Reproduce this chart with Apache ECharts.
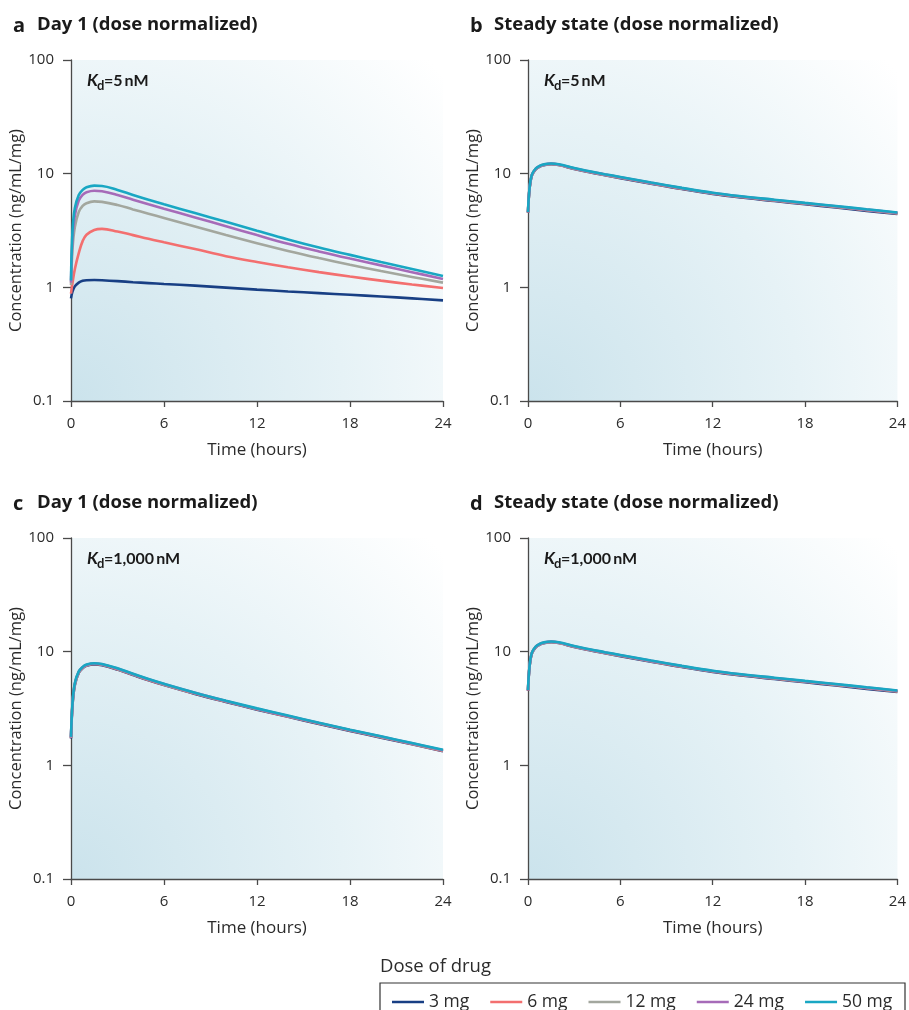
<!DOCTYPE html>
<html>
<head>
<meta charset="utf-8">
<script src="https://cdn.jsdelivr.net/npm/echarts@6/dist/echarts.min.js"></script>
<style>
html,body{margin:0;padding:0;background:#fff;}
#chart{width:909px;height:1010px;}
</style>
</head>
<body>
<div id="chart"></div>
<script>
// ---------- DATA ----------
const times = [0, 0.1, 0.25, 0.5, 0.75, 1, 1.5, 2, 3, 4, 5, 6, 8, 10, 12, 14, 16, 18, 20, 22, 24];
const doseNames = ['3 mg', '6 mg', '12 mg', '24 mg', '50 mg'];
const xTickLabels = ['0', '6', '12', '18', '24'];
const yTickLabels = ['0.1', '1', '10', '100'];

// Panel a: Day 1, Kd = 5 nM
const a3  = [0.80,0.92,1.02,1.10,1.14,1.155,1.16,1.155,1.135,1.11,1.09,1.07,1.035,0.995,0.955,0.92,0.89,0.86,0.83,0.80,0.768];
const a6  = [0.88,1.10,1.45,2.00,2.55,2.90,3.20,3.27,3.10,2.88,2.67,2.49,2.17,1.88,1.67,1.50,1.36,1.245,1.145,1.06,0.986];
const a12 = [1.05,2.20,3.40,4.60,5.20,5.50,5.70,5.65,5.30,4.85,4.45,4.08,3.43,2.88,2.44,2.09,1.81,1.58,1.39,1.235,1.10];
const a24 = [1.10,2.70,4.30,5.80,6.50,6.85,7.07,7.00,6.50,5.90,5.37,4.91,4.12,3.45,2.88,2.42,2.07,1.79,1.56,1.36,1.185];
const a50 = [1.15,3.20,5.00,6.50,7.20,7.60,7.85,7.80,7.20,6.50,5.90,5.38,4.50,3.77,3.15,2.64,2.24,1.93,1.67,1.45,1.26];

// Panel b: Steady state, Kd = 5 nM
const b3  = [4.52,7.30,9.60,10.90,11.50,11.85,12.10,11.90,11.00,10.30,9.70,9.14,8.16,7.32,6.64,6.14,5.74,5.38,5.04,4.71,4.42];
const b6  = [4.55,7.35,9.65,10.95,11.55,11.90,12.15,11.95,11.05,10.35,9.75,9.20,8.22,7.38,6.70,6.20,5.80,5.44,5.10,4.77,4.47];
const b12 = [4.57,7.40,9.70,11.00,11.60,11.95,12.20,12.00,11.10,10.40,9.80,9.25,8.26,7.42,6.73,6.23,5.83,5.47,5.13,4.80,4.50];
const b24 = [4.58,7.45,9.75,11.05,11.65,12.00,12.25,12.05,11.15,10.45,9.85,9.30,8.30,7.46,6.77,6.27,5.87,5.50,5.16,4.83,4.53];
const b50 = [4.60,7.50,9.80,11.10,11.70,12.05,12.30,12.10,11.20,10.50,9.90,9.35,8.35,7.50,6.80,6.30,5.90,5.53,5.19,4.86,4.56];

// Panel c: Day 1, Kd = 1,000 nM
const c3  = [1.72,3.40,5.10,6.50,7.15,7.50,7.72,7.60,6.95,6.23,5.60,5.08,4.25,3.61,3.09,2.67,2.31,2.01,1.75,1.53,1.33];
const c6  = [1.74,3.45,5.15,6.55,7.20,7.55,7.78,7.66,7.00,6.28,5.64,5.12,4.28,3.64,3.11,2.69,2.33,2.03,1.77,1.54,1.34];
const c12 = [1.75,3.50,5.20,6.60,7.25,7.60,7.82,7.70,7.05,6.32,5.68,5.15,4.31,3.66,3.13,2.71,2.35,2.04,1.78,1.55,1.35];
const c24 = [1.76,3.55,5.25,6.65,7.30,7.65,7.87,7.75,7.10,6.36,5.72,5.19,4.34,3.68,3.15,2.72,2.36,2.05,1.79,1.56,1.36];
const c50 = [1.78,3.60,5.30,6.70,7.35,7.70,7.92,7.80,7.15,6.40,5.75,5.22,4.36,3.70,3.17,2.74,2.37,2.06,1.80,1.57,1.37];

// Panel d: Steady state, Kd = 1,000 nM
const d3  = [4.52,7.30,9.60,10.90,11.50,11.85,12.10,11.90,11.00,10.30,9.70,9.14,8.16,7.32,6.64,6.14,5.74,5.38,5.04,4.71,4.42];
const d6  = [4.55,7.35,9.65,10.95,11.55,11.90,12.15,11.95,11.05,10.35,9.75,9.20,8.22,7.38,6.70,6.20,5.80,5.44,5.10,4.77,4.47];
const d12 = [4.57,7.40,9.70,11.00,11.60,11.95,12.20,12.00,11.10,10.40,9.80,9.25,8.26,7.42,6.73,6.23,5.83,5.47,5.13,4.80,4.50];
const d24 = [4.58,7.45,9.75,11.05,11.65,12.00,12.25,12.05,11.15,10.45,9.85,9.30,8.30,7.46,6.77,6.27,5.87,5.50,5.16,4.83,4.53];
const d50 = [4.60,7.50,9.80,11.10,11.70,12.05,12.30,12.10,11.20,10.50,9.90,9.35,8.35,7.50,6.80,6.30,5.90,5.53,5.19,4.86,4.56];

const panelLetters = ['a', 'b', 'c', 'd'];
const panelTitles = ['Day 1 (dose normalized)', 'Steady state (dose normalized)', 'Day 1 (dose normalized)', 'Steady state (dose normalized)'];
const kdValues = ['5\u2009nM', '5\u2009nM', '1,000\u2009nM', '1,000\u2009nM'];
const legendTitle = 'Dose of drug';
const xAxisTitle = 'Time (hours)';
const yAxisTitle = 'Concentration (ng/mL/mg)';

// ---------- STYLE / LAYOUT ----------
const colors = ['#183f84', '#f36f6f', '#a3a79e', '#a66bb8', '#19a7c3'];
const FONT = '"Open Sans", Lato, "DejaVu Sans", sans-serif';
const KFONT = 'Lato, "Open Sans", sans-serif';
const TXT = '#2b2b2b';
const AX = '#4a4a4a';
const grids = [
  {left: 71, top: 60, width: 372, height: 341},
  {left: 528, top: 60, width: 370, height: 341},
  {left: 71, top: 538, width: 372, height: 341},
  {left: 528, top: 538, width: 370, height: 341}
];
const panelSeries = [
  [a3, a6, a12, a24, a50],
  [b3, b6, b12, b24, b50],
  [c3, c6, c12, c24, c50],
  [d3, d6, d12, d24, d50]
];

const chart = echarts.init(document.getElementById('chart'), null, {renderer: 'canvas'});

function bg() {
  return new echarts.graphic.RadialGradient(0, 1, 1.45, [
    {offset: 0, color: '#cbe3ec'},
    {offset: 0.55, color: '#e6f2f6'},
    {offset: 1, color: '#ffffff'}
  ]);
}

const option = {
  animation: false,
  backgroundColor: '#ffffff',
  textStyle: {fontFamily: FONT},
  grid: grids.map(g => Object.assign({show: true, borderWidth: 0, backgroundColor: bg()}, g)),
  xAxis: grids.map((g, i) => ({
    type: 'value', gridIndex: i, min: 0, max: 24, interval: 6,
    axisLine: {show: true, onZero: false, lineStyle: {color: AX, width: 1.3}},
    axisTick: {show: true, length: 6, lineStyle: {color: AX, width: 1.3}},
    axisLabel: {fontSize: 15, color: TXT, margin: 15, fontFamily: FONT,
      formatter: v => xTickLabels[Math.round(v / 6)]},
    splitLine: {show: false},
    name: xAxisTitle, nameLocation: 'middle', nameGap: 41,
    nameTextStyle: {fontSize: 17, color: TXT, fontFamily: FONT}
  })),
  yAxis: grids.map((g, i) => ({
    type: 'log', logBase: 10, gridIndex: i, min: 0.1, max: 100,
    axisLine: {show: true, lineStyle: {color: AX, width: 1.3}},
    axisTick: {show: true, length: 8, lineStyle: {color: AX, width: 1.3}},
    minorTick: {show: false},
    axisLabel: {fontSize: 15, color: TXT, margin: 17, fontFamily: FONT,
      formatter: v => yTickLabels[Math.round(Math.log10(v)) + 1]},
    splitLine: {show: false},
    name: yAxisTitle, nameLocation: 'middle', nameGap: 45, nameRotate: 90,
    nameTextStyle: {fontSize: 16.5, color: TXT, fontFamily: FONT}
  })),
  legend: {
    left: 387, top: 988, itemWidth: 32, itemHeight: 2.5, itemGap: 21, icon: 'rect',
    data: doseNames,
    textStyle: {fontSize: 17.5, color: TXT, fontFamily: FONT}
  },
  series: [],
  graphic: []
};

panelSeries.forEach((arrs, p) => {
  arrs.forEach((vals, k) => {
    option.series.push({
      type: 'line', name: doseNames[k], xAxisIndex: p, yAxisIndex: p,
      data: times.map((t, j) => [t, vals[j]]),
      showSymbol: false, smooth: 0.4,
      lineStyle: {color: colors[k], width: 2.6},
      itemStyle: {color: colors[k]},
      z: 2 + k
    });
  });
});

// panel titles and Kd labels
grids.forEach((g, p) => {
  const lx = p % 2 === 0 ? 13 : 470;
  option.graphic.push({
    type: 'text', left: lx, top: g.top - 44,
    style: {text: panelLetters[p], font: 'bold 20px ' + FONT, fill: '#1a1a1a'}
  });
  option.graphic.push({
    type: 'text', left: lx + 24, top: g.top - 45,
    style: {text: panelTitles[p], font: 'bold 18.5px ' + FONT, fill: '#1a1a1a'}
  });
  const kx = g.left + 16, ky = g.top + 12;
  option.graphic.push({
    type: 'text', left: kx, top: ky,
    style: {text: 'K', font: 'italic bold 17px ' + KFONT, fill: '#1a1a1a'}
  });
  option.graphic.push({
    type: 'text', left: kx + 10, top: ky + 7,
    style: {text: 'd', font: 'bold 13px ' + KFONT, fill: '#1a1a1a'}
  });
  option.graphic.push({
    type: 'text', left: kx + 17, top: ky + 1,
    style: {text: '=' + kdValues[p], font: 'bold 16px ' + KFONT, fill: '#1a1a1a'}
  });
});

// legend title and box
option.graphic.push({
  type: 'text', left: 380, top: 957,
  style: {text: legendTitle, font: '18.5px ' + FONT, fill: TXT}
});
option.graphic.push({
  type: 'rect', shape: {x: 380, y: 983, width: 525, height: 40},
  style: {fill: 'none', stroke: '#333', lineWidth: 1.2}
});

chart.setOption(option);
</script>
</body>
</html>
